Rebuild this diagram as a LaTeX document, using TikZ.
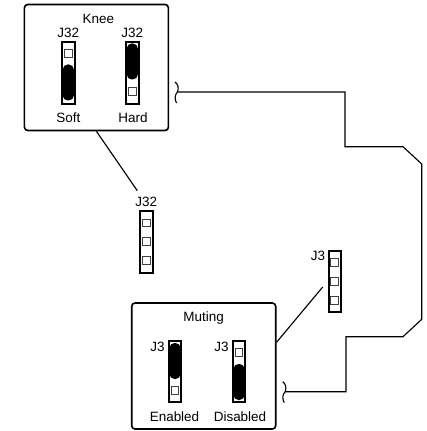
\documentclass[tikz,border=0pt]{standalone}
\usepackage{fontspec}
\setmainfont{Liberation Sans}
\tikzset{
  panel/.style={draw,line width=1.2pt,rounded corners=2.5pt,minimum width=108pt,minimum height=94.5pt,inner sep=0pt},
  header/.style={draw,line width=1.5pt,fill=white,minimum width=9.4pt,minimum height=46pt,inner sep=0pt},
  pin/.style={draw=black!75,line width=0.75pt,fill=white,minimum size=5.8pt,inner sep=0pt},
  shunt/.style={fill=black,rounded corners=3.8pt,minimum width=8.4pt,minimum height=27pt,inner sep=0pt},
  lbl/.style={inner sep=0.75pt,font=\fontsize{10.1}{11}\selectfont},
  wire/.style={line width=0.85pt},
}
\begin{document}
\begin{tikzpicture}[x=0.75pt,y=0.75pt,yscale=-1,xscale=1]
    \useasboundingbox (0,0) rectangle (427,431);
    % Knee panel
    \node [panel] (kneebox) at (96.4,67.5) {};
    \node [lbl] (kneelbl) at (98.3,19) {Knee};
    \node [header] (softhdr) at (68.3,73) {};
    \node [pin] (softpin) at (68.3,53.7) {};
    \node [shunt] (softjmp) at (68.3,82.5) {};
    \node [header] (hardhdr) at (132.3,73) {};
    \node [pin] (hardpin) at (132.3,91.7) {};
    \node [shunt] (hardjmp) at (132.3,61.5) {};
    \node [lbl] (softj) at (68.3,33) {J32};
    \node [lbl] (hardj) at (132.3,33) {J32};
    \node [lbl] (softlbl) at (68.3,118) {Soft};
    \node [lbl] (hardlbl) at (133,118) {Hard};
    % Loose J32
    \node [header] (midhdr) at (146.7,242) {};
    \node [pin] (midpina) at (146.7,223) {};
    \node [pin] (midpinb) at (146.7,241.8) {};
    \node [pin] (midpinc) at (146.7,260.7) {};
    \node [lbl] (midj) at (146.3,202) {J32};
    % Loose J3
    \node [header] (righthdr) at (334.8,281.7) {};
    \node [pin] (rightpina) at (334.5,262.7) {};
    \node [pin] (rightpinb) at (334.5,281.7) {};
    \node [pin] (rightpinc) at (334.5,300.7) {};
    \node [lbl] (rightj) at (318,256) {J3};
    % Muting panel
    \node [panel] (mutebox) at (203.7,366) {};
    \node [lbl] (mutelbl) at (203.7,318) {Muting};
    \node [header] (enahdr) at (175,371.3) {};
    \node [pin] (enapin) at (175,390.7) {};
    \node [shunt] (enajmp) at (175,361) {};
    \node [header] (dishdr) at (239,371.3) {};
    \node [pin] (dispin) at (239,352.3) {};
    \node [shunt] (disjmp) at (239,382) {};
    \node [lbl] (enaj) at (157.5,347) {J3};
    \node [lbl] (disj) at (221.5,347) {J3};
    \node [lbl] (enalbl) at (174.5,417) {Enabled};
    \node [lbl] (dislbl) at (240,417) {Disabled};
    % Free ends
    \coordinate (midtip) at (137.3,190.7);
    \coordinate (righttip) at (322.7,287);
    \coordinate (kneetie) at (177.5,92);
    \coordinate (mutetie) at (285.2,391.7);
    % Leaders
    \draw [wire] (kneebox.south) -- (midtip);
    \draw [wire] (mutebox.18) -- (righttip);
    % Cable
    \draw [wire] (kneetie) -- (345,92) -- (345,146.7) -- (403,146.7) -- (421.7,164) -- (421.7,319.3) -- (403,336.7) -- (346,336.7) -- (346,391.7) -- (mutetie);
    % Break marks
    \draw [wire] (kneetie) .. controls (179,88) and (178,84) .. (175,82);
    \draw [wire] (kneetie) .. controls (174.5,95) and (174.5,99) .. (176.5,103);
    \draw [wire] (mutetie) .. controls (286.7,387.7) and (285.7,383.7) .. (282.7,381.7);
    \draw [wire] (mutetie) .. controls (282.2,394.7) and (282.2,398.7) .. (284.2,402.7);
\end{tikzpicture}
\end{document}
